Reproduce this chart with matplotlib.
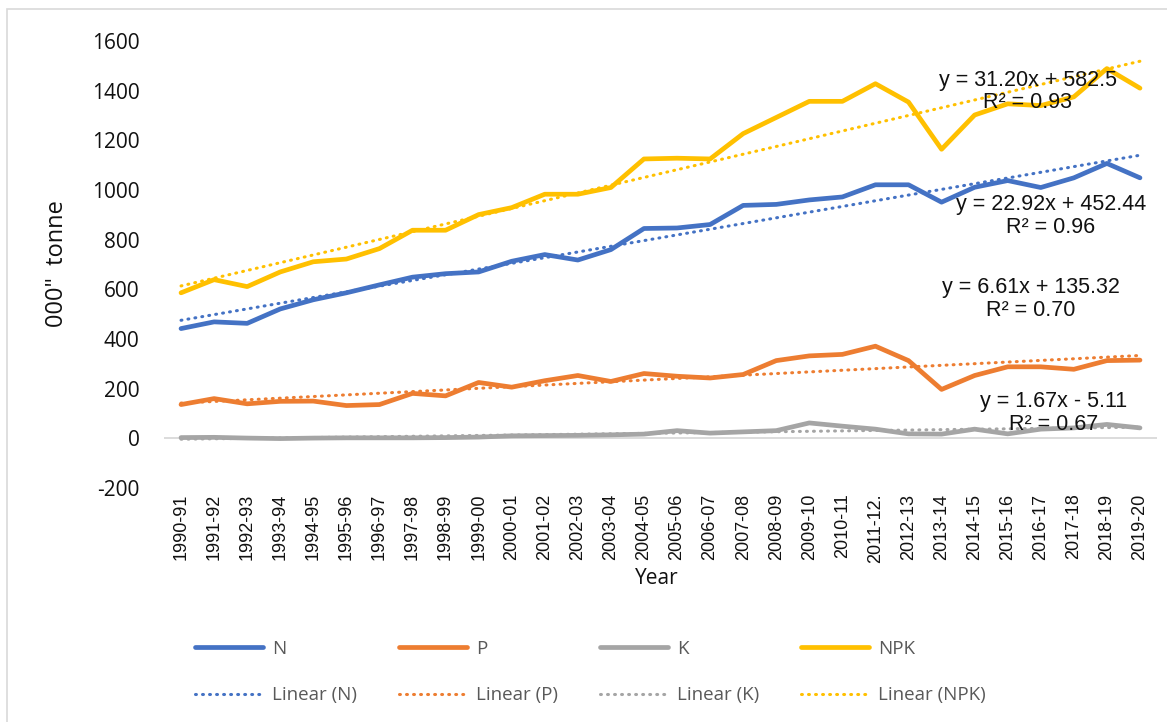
import matplotlib
matplotlib.use("Agg")
import matplotlib.pyplot as plt
import numpy as np
from matplotlib.lines import Line2D
from matplotlib.patches import Rectangle

plt.rcParams["axes.unicode_minus"] = False

years = ["1990-91", "1991-92", "1992-93", "1993-94", "1994-95", "1995-96", "1996-97",
         "1997-98", "1998-99", "1999-00", "2000-01", "2001-02", "2002-03", "2003-04",
         "2004-05", "2005-06", "2006-07", "2007-08", "2008-09", "2009-10", "2010-11",
         "2011-12.", "2012-13", "2013-14", "2014-15", "2015-16", "2016-17", "2017-18",
         "2018-19", "2019-20"]

n_vals = [442, 469, 463, 521, 558, 586, 618, 649, 663, 670, 713, 740, 718, 760,
          845, 847, 861, 938, 942, 960, 972, 1021, 1021, 951, 1011, 1038, 1010, 1049,
          1107, 1049]
p_vals = [136, 160, 139, 149, 150, 132, 136, 181, 171, 225, 206, 232, 253, 229,
          261, 250, 243, 257, 313, 332, 338, 371, 313, 197, 253, 288, 288, 278,
          313, 315]
k_vals = [3, 4, 1, -1, 1, 2, 2, 2, 3, 5, 10, 11, 12, 14,
          17, 31, 21, 26, 31, 62, 49, 37, 18, 17, 37, 18, 37, 42, 56, 42]
npk_vals = [586, 639, 611, 670, 711, 722, 764, 838, 838, 901, 929, 983, 983, 1010,
            1125, 1128, 1125, 1227, 1292, 1357, 1357, 1428, 1354, 1164, 1302, 1347,
            1340, 1375, 1489, 1410]

series_names = ["N", "P", "K", "NPK"]
trend_slopes = [22.92, 6.61, 1.67, 31.20]
trend_intercepts = [452.44, 135.32, -5.11, 582.5]
eq_texts = ["y = 22.92x + 452.44\nR² = 0.96", "y = 6.61x + 135.32\nR² = 0.70",
            "y = 1.67x - 5.11\nR² = 0.67", "y = 31.20x + 582.5\nR² = 0.93"]
eq_pos = [(26.3, 895), (25.7, 561), (26.4, 101), (25.6, 1396)]

colors = ["#4472C4", "#ED7D31", "#A5A5A5", "#FFC000"]
values = [n_vals, p_vals, k_vals, npk_vals]

W, H = 1167, 722
fig = plt.figure(figsize=(W / 100, H / 100), dpi=100)
fig.patch.set_facecolor("white")

# outer chart border
fig.patches.append(Rectangle((7 / W, -0.05), 1.2, 1 - 9 / H + 0.05, transform=fig.transFigure,
                             fill=False, edgecolor="#D9D9D9", linewidth=1.2))

left, right, top, bottom = 164.5, 1156.5, 41, 488
ax = fig.add_axes([left / W, 1 - bottom / H, (right - left) / W, (bottom - top) / H])
ax.set_facecolor("none")

x = np.arange(len(years))
ax.axhline(0, color="#D9D9D9", lw=1.3, zorder=1)

for name, vals, col in zip(series_names, values, colors):
    ax.plot(x, vals, color=col, lw=3.4, solid_capstyle="round", solid_joinstyle="round", zorder=3)

for name, m, b, col in zip(series_names, trend_slopes, trend_intercepts, colors):
    xx = np.arange(1, len(years) + 1)
    ax.plot(x, m * xx + b, color=col, lw=2.2, linestyle=(0, (0.3, 2.0)),
            dash_capstyle="round", zorder=4)

for txt, (px, py) in zip(eq_texts, eq_pos):
    ax.text(px, py, txt, ha="center", va="center", fontsize=15.5, family="Liberation Sans",
            color="#111111", linespacing=1.1, zorder=5)

ax.set_xlim(-0.5, len(years) - 0.5)
ax.set_ylim(-200, 1600)
ax.set_yticks(range(-200, 1601, 200))
ax.set_xticks(x)
ax.set_xticklabels(years, rotation=90, family="Liberation Sans", fontsize=13, color="#111111")
for lab in ax.get_yticklabels():
    lab.set_family("Open Sans")
    lab.set_fontsize(15)
    lab.set_color("#111111")
ax.tick_params(axis="x", length=0, pad=4)
ax.tick_params(axis="y", length=0, pad=18)
for s in ax.spines.values():
    s.set_visible(False)

fig.text(57 / W, 1 - 264 / H, '000"  tonne', rotation=90, ha="center", va="center",
         fontsize=17, family="Open Sans", color="#111111")
fig.text(657 / W, 1 - 578 / H, "Year", ha="center", va="center",
         fontsize=15, family="Open Sans", color="#111111")

leg_handles = []
leg_labels = []
for name, col in zip(series_names, colors):
    leg_handles.append(Line2D([], [], color=col, lw=3.4, solid_capstyle="round"))
    leg_labels.append(name)
    leg_handles.append(Line2D([], [], color=col, lw=2.2, linestyle=(0, (0.3, 2.0)),
                              dash_capstyle="round"))
    leg_labels.append(f"Linear ({name})")

leg = fig.legend(leg_handles, leg_labels, ncol=4, loc="upper left",
                 bbox_to_anchor=(195 / W, 1 - 640 / H), frameon=False,
                 borderpad=0, borderaxespad=0, handlelength=3.6, handletextpad=0.5,
                 columnspacing=2.25, labelspacing=1.5,
                 prop={"family": "Open Sans", "size": 13.5})
for t in leg.get_texts():
    t.set_color("#595959")

fig.savefig("out.png", dpi=100, facecolor="white")
